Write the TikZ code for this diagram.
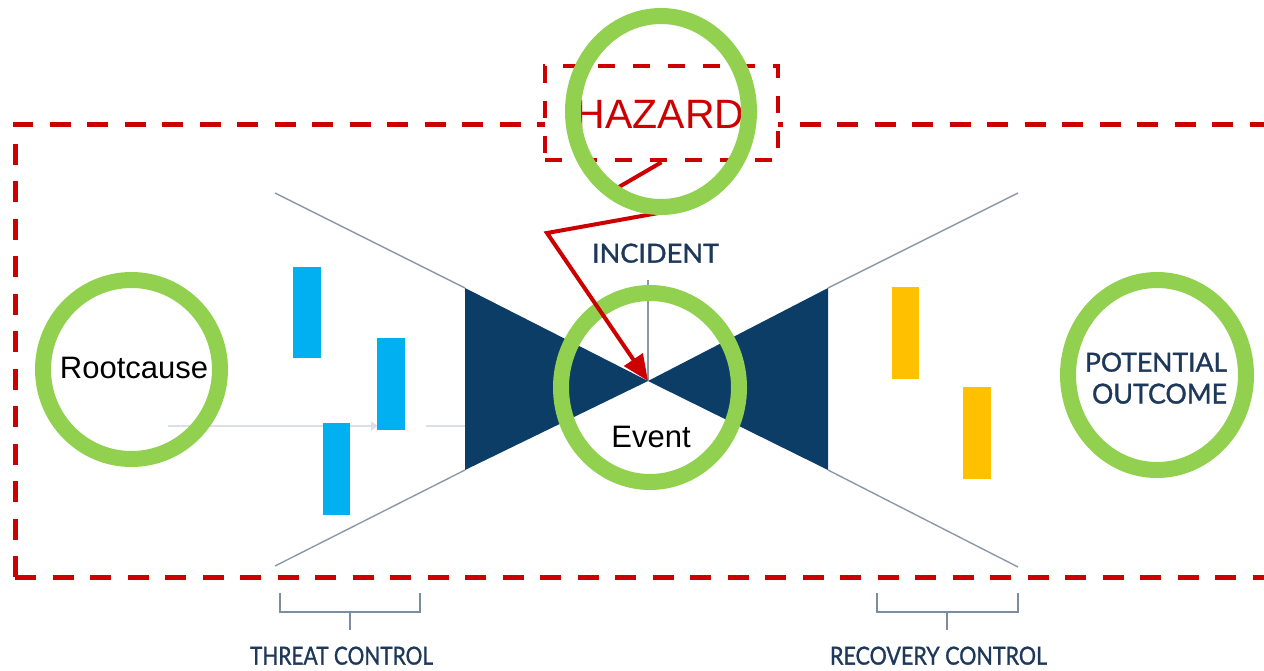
\documentclass[tikz,border=0pt]{standalone}
\usepackage{fontspec}
\setmainfont{Liberation Sans}
\newfontfamily\latofont[FakeBold=1.2]{Lato}
\usetikzlibrary{arrows.meta,shapes.geometric}

\definecolor{hazardred}{RGB}{204,0,0}
\definecolor{ringgreen}{RGB}{146,208,80}
\definecolor{bownavy}{RGB}{12,61,102}
\definecolor{wiregray}{RGB}{140,152,166}
\definecolor{bracketgray}{RGB}{125,140,158}
\definecolor{labelnavy}{RGB}{30,56,90}
\definecolor{barblue}{RGB}{0,176,240}
\definecolor{baryellow}{RGB}{255,192,0}
\definecolor{faintgray}{RGB}{218,224,230}

\tikzset{
  wire/.style={draw=wiregray, line width=1.4pt},
  bracketline/.style={draw=bracketgray, line width=1.4pt},
  ring/.style={ellipse, draw=ringgreen, line width=16pt, inner sep=0pt, outer sep=0pt},
  reddash/.style={draw=hazardred, line width=5pt, dash pattern=on 21pt off 16.5pt},
  hazbox/.style={rectangle, draw=hazardred, fill=white, line width=4.5pt,
                 dash pattern=on 17pt off 18pt, inner sep=0pt},
  redarrow/.style={draw=hazardred, line width=4pt, line join=miter,
                   -{Triangle[length=26pt,width=22pt]}},
  capslabel/.style={inner sep=0pt, anchor=south, text=labelnavy, font=\latofont},
  plainlabel/.style={inner sep=0pt, anchor=base, text=black},
}

\begin{document}
\begin{tikzpicture}[x=1pt,y=-1pt]
  \useasboundingbox (0,0) rectangle (1264,670);
  \clip (0,0) rectangle (1264,670);

  % bow-tie core
  \coordinate (core) at (648,381);
  \fill[bownavy] (465,288) -- (core) -- (465,470) -- cycle;
  \fill[bownavy] (828,288) -- (core) -- (828,470) -- cycle;

  % funnel wires
  \draw[wire] (275,193) -- (465,288);
  \draw[wire] (275,566) -- (465,470);
  \draw[wire] (1018,193) -- (828,288);
  \draw[wire] (1018,567) -- (828,470);
  \draw[wire] (core) -- (648,280);

  % faint flow line through the threat barriers
  \draw[faintgray, line width=1.5pt, -{Triangle[length=7pt,width=9pt]}] (168,426) -- (378,426);
  \draw[faintgray, line width=1.5pt] (426,426) -- (465,426);

  % threat barriers
  \fill[barblue] (293,267) rectangle (321,358);
  \fill[barblue] (377,338) rectangle (405,430);
  \fill[barblue] (323,423) rectangle (350,515);

  % recovery barriers
  \fill[baryellow] (892,287) rectangle (919,379);
  \fill[baryellow] (963,387) rectangle (991,479);

  % brackets
  \draw[bracketline] (280,593) -- (280,612) -- (420,612) -- (420,593);
  \draw[bracketline] (350,612) -- (350,630);
  \draw[bracketline] (877,593) -- (877,612) -- (1018,612) -- (1018,593);
  \draw[bracketline] (947,612) -- (947,630);

  % captions
  \node[capslabel] (incident) at (655.5,263) {\resizebox{127pt}{19pt}{INCIDENT}};
  \node[capslabel] (potential) at (1156,372) {\resizebox{142pt}{19pt}{POTENTIAL}};
  \node[capslabel] (outcome) at (1159.5,404) {\resizebox{135pt}{20pt}{OUTCOME}};
  \node[capslabel] (threat) at (341.5,665) {\resizebox{183pt}{18pt}{THREAT CONTROL}};
  \node[capslabel] (recovery) at (938.5,665) {\resizebox{217pt}{18pt}{RECOVERY CONTROL}};

  % scope frame
  \draw[reddash] (15,577) -- (15,124) -- (1300,124);
  \draw[reddash] (15,577) -- (1300,577);

  % hazard box
  \node[hazbox, minimum width=233pt, minimum height=94pt] (hazardbox) at (661.5,113) {};
  \node[plainlabel, text=hazardred, font=\fontsize{41pt}{41pt}\selectfont] (hazardtxt) at (660,128) {HAZARD};

  % event ring and labels
  \node[ring, minimum width=178pt, minimum height=189pt] (eventring) at (650,387.5) {};
  \node[plainlabel, font=\fontsize{31pt}{31pt}\selectfont] (eventtxt) at (651,447) {Event};
  \node[ring, minimum width=177pt, minimum height=179pt] (rootring) at (131.5,369.5) {};
  \node[plainlabel, font=\fontsize{31pt}{31pt}\selectfont] (roottxt) at (134,378) {Rootcause};
  \node[ring, minimum width=178pt, minimum height=190pt] (outring) at (1157,375) {};

  % hazard arrow to the event
  \coordinate (bendA) at (612,191);
  \coordinate (bendB) at (664,212);
  \coordinate (bendC) at (547,233);
  \draw[redarrow] (hazardbox.south) -- (bendA) -- (bendB) -- (bendC) -- (core);

  % hazard ring
  \node[ring, minimum width=176pt, minimum height=191pt] (hazring) at (661,111.5) {};
\end{tikzpicture}
\end{document}
